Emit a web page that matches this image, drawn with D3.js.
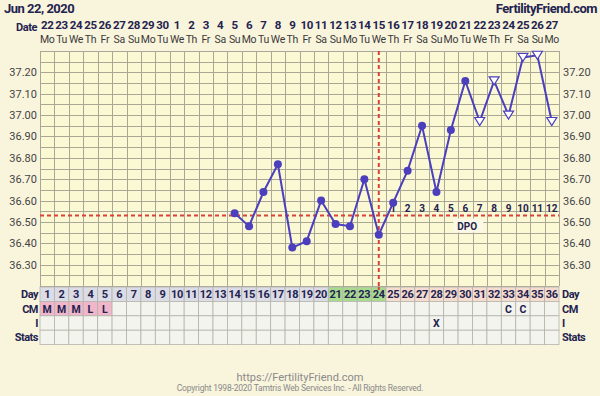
<!DOCTYPE html>
<html>
<head>
<meta charset="utf-8">
<style>
	body { margin: 0; background: #f9f4dc; }
	svg text { font-family: Roboto, sans-serif; }
</style>
</head>
<body>
<svg id="chart" width="600" height="396"></svg>
<script src="https://cdn.jsdelivr.net/npm/d3@7"></script>
<script>

	var days = d3.range(1, 37);
	var dates = [22,23,24,25,26,27,28,29,30,1,2,3,4,5,6,7,8,9,10,11,12,13,14,15,16,17,18,19,20,21,22,23,24,25,26,27];
	var weekdays = ["Mo","Tu","We","Th","Fr","Sa","Su"];
	var tempDays = [14,15,16,17,18,19,20,21,22,23,24,25,26,27,28,29,30,31,32,33,34,35,36];
	var temps = [36.54,36.48,36.64,36.77,36.38,36.41,36.60,36.49,36.48,36.70,36.44,36.59,36.74,36.95,36.64,36.93,37.16,36.97,37.16,37.00,37.27,37.28,36.97];
	var projected = [31,32,33,34,35,36]; // open triangles
	var yTicks = [36.30,36.40,36.50,36.60,36.70,36.80,36.90,37.00,37.10,37.20];
	var coverline = 36.53;
	var ovulationDay = 24;
	var dpoDays = [25,26,27,28,29,30,31,32,33,34,35,36];
	var cmValues = {1:"M",2:"M",3:"M",4:"L",5:"L",33:"C",34:"C"};
	var iValues = {28:"X"};
	var greenDays = [21,22,23,24];

	var navy = "#23234f";
	var lineColor = "#4b3fbd";
	var red = "#d9413a";

	var svg = d3.select("#chart");
	var x = d3.scaleBand().domain(days).range([40, 559]);
	var y = d3.scaleLinear().domain([36.20, 37.30]).range([286, 51]);
	var bw = x.bandwidth();
	function cx(d){ return x(d) + bw / 2; }

	// header
	svg.append("text").attr("x", 4).attr("y", 13).attr("font-size", 13).attr("font-weight", 700)
		.attr("fill", navy).attr("letter-spacing", -0.5).text("Jun 22, 2020");
	svg.append("text").attr("x", 597).attr("y", 13).attr("font-size", 13).attr("font-weight", 700)
		.attr("fill", navy).attr("text-anchor", "end").attr("letter-spacing", -0.5).text("FertilityFriend.com");
	svg.append("text").attr("x", 37).attr("y", 31).attr("font-size", 11).attr("font-weight", 700)
		.attr("fill", navy).attr("text-anchor", "end").attr("letter-spacing", -0.4).text("Date");
	svg.selectAll(".date").data(days).enter().append("text")
		.attr("x", cx).attr("y", 29).attr("text-anchor", "middle")
		.attr("font-size", 11.5).attr("font-weight", 700).attr("fill", navy).attr("letter-spacing", -0.3)
		.text(function(d){ return dates[d - 1]; });
	svg.selectAll(".wd").data(days).enter().append("text")
		.attr("x", cx).attr("y", 43).attr("text-anchor", "middle")
		.attr("font-size", 10.5).attr("fill", "#3a3a3a").attr("letter-spacing", -0.3)
		.text(function(d){ return weekdays[(d - 1) % 7]; });

	// plot area
	svg.append("rect").attr("x", 40).attr("y", y(37.30)).attr("width", 519).attr("height", y(36.20) - y(37.30))
		.attr("fill", "#fbf8d4");
	var grid = svg.append("g").attr("stroke", "#aaa796").attr("stroke-width", 1);
	d3.range(36.20, 37.301, 0.05).forEach(function(t){
		grid.append("line").attr("x1", 40).attr("x2", 559).attr("y1", Math.round(y(t)) + 0.5).attr("y2", Math.round(y(t)) + 0.5);
	});
	d3.range(0, 37).forEach(function(i){
		var xx = Math.round(40 + i * bw) + 0.5;
		grid.append("line").attr("x1", xx).attr("x2", xx).attr("y1", y(37.30)).attr("y2", y(36.20));
	});

	// y labels
	svg.selectAll(".yl").data(yTicks).enter().append("text")
		.attr("x", 37).attr("y", function(d){ return y(d) + 4; }).attr("text-anchor", "end")
		.attr("font-size", 11).attr("fill", "#444").text(function(d){ return d.toFixed(2); });
	svg.selectAll(".yr").data(yTicks).enter().append("text")
		.attr("x", 563).attr("y", function(d){ return y(d) + 4; })
		.attr("font-size", 11).attr("fill", "#444").text(function(d){ return d.toFixed(2); });

	// coverline and ovulation line
	svg.append("line").attr("x1", 40).attr("x2", 559).attr("y1", y(coverline)).attr("y2", y(coverline))
		.attr("stroke", red).attr("stroke-width", 2).attr("stroke-dasharray", "4,3");
	svg.append("line").attr("x1", cx(ovulationDay)).attr("x2", cx(ovulationDay)).attr("y1", y(37.30)).attr("y2", 291)
		.attr("stroke", red).attr("stroke-width", 2).attr("stroke-dasharray", "4,3");

	// DPO numbers
	svg.selectAll(".dpo").data(dpoDays).enter().append("text")
		.attr("x", cx).attr("y", y(coverline) - 4).attr("text-anchor", "middle")
		.attr("font-family", "'DejaVu Serif', serif").attr("font-size", 10).attr("font-weight", 700)
		.attr("fill", navy).text(function(d, i){ return i + 1; });
	var dpoX = cx(30) + 2;
	svg.append("rect").attr("x", dpoX - 14).attr("y", y(coverline) + 3).attr("width", 30).attr("height", 14).attr("fill", "#fbf8e6");
	svg.append("text").attr("x", dpoX).attr("y", y(coverline) + 14).attr("text-anchor", "middle")
		.attr("font-size", 10).attr("font-weight", 700).attr("fill", navy).text("DPO");

	// temperature line
	var pts = tempDays.map(function(d, i){ return [cx(d), y(temps[i]), d]; });
	svg.append("path").datum(pts).attr("fill", "none").attr("stroke", lineColor).attr("stroke-width", 2)
		.attr("d", d3.line());
	svg.selectAll(".pt").data(pts.filter(function(p){ return projected.indexOf(p[2]) < 0; })).enter().append("circle")
		.attr("cx", function(p){ return p[0]; }).attr("cy", function(p){ return p[1]; }).attr("r", 4)
		.attr("fill", lineColor);
	svg.selectAll(".tri").data(pts.filter(function(p){ return projected.indexOf(p[2]) >= 0; })).enter().append("path")
		.attr("d", function(p){ return "M" + (p[0] - 5) + "," + (p[1] - 4) + "L" + (p[0] + 5) + "," + (p[1] - 4) + "L" + p[0] + "," + (p[1] + 4) + "Z"; })
		.attr("fill", "#fff").attr("stroke", lineColor).attr("stroke-width", 1.2);

	// bottom table
	var rowTop = 287, rowH = 14.4;
	var rows = ["Day", "CM", "I", "Stats"];
	rows.forEach(function(r, ri){
		var ry = rowTop + ri * rowH;
		svg.selectAll(".cell" + ri).data(days).enter().append("rect")
			.attr("x", function(d){ return x(d); }).attr("y", ry).attr("width", bw).attr("height", rowH)
			.attr("stroke", "#b4b4ac").attr("stroke-width", 0.8)
			.attr("fill", function(d){
				if (ri === 0) {
					if (greenDays.indexOf(d) >= 0) return "#a9db8f";
					if (d > ovulationDay) return "#f6dccf";
					return "#dcdce6";
				}
				if (ri === 1 && d <= 5) return "#f1b6ca";
				return "#f4f4ee";
			});
		svg.append("text").attr("x", 38).attr("y", ry + rowH / 2 + 4).attr("text-anchor", "end")
			.attr("font-size", 11).attr("font-weight", 700).attr("fill", navy).attr("letter-spacing", -0.5)
			.attr("font-family", ri === 1 || ri === 2 ? "'DejaVu Serif', serif" : null).text(r);
		svg.append("text").attr("x", 562).attr("y", ry + rowH / 2 + 4)
			.attr("font-size", 11).attr("font-weight", 700).attr("fill", navy).attr("letter-spacing", -0.5)
			.attr("font-family", "'DejaVu Serif', serif").text(r);
	});
	svg.selectAll(".dn").data(days).enter().append("text")
		.attr("x", cx).attr("y", rowTop + rowH / 2 + 4).attr("text-anchor", "middle")
		.attr("font-size", 11).attr("font-weight", 700).attr("fill", navy).attr("letter-spacing", -0.3)
		.text(function(d){ return d; });
	svg.selectAll(".cm").data(Object.keys(cmValues)).enter().append("text")
		.attr("x", function(d){ return cx(+d); }).attr("y", rowTop + rowH * 1.5 + 4).attr("text-anchor", "middle")
		.attr("font-family", "'DejaVu Serif', serif").attr("font-size", 10.5).attr("font-weight", 700).attr("fill", navy)
		.text(function(d){ return cmValues[d]; });
	svg.selectAll(".iv").data(Object.keys(iValues)).enter().append("text")
		.attr("x", function(d){ return cx(+d); }).attr("y", rowTop + rowH * 2.5 + 4).attr("text-anchor", "middle")
		.attr("font-family", "'DejaVu Serif', serif").attr("font-size", 10.5).attr("font-weight", 700).attr("fill", navy)
		.text(function(d){ return iValues[d]; });
	// ovulation mark on day row
	svg.append("line").attr("x1", cx(ovulationDay)).attr("x2", cx(ovulationDay)).attr("y1", rowTop).attr("y2", rowTop + 3)
		.attr("stroke", red).attr("stroke-width", 2);

	// footer
	svg.append("text").attr("x", 300).attr("y", 381).attr("text-anchor", "middle")
		.attr("font-size", 11).attr("fill", "#8a8a8a").text("https://FertilityFriend.com");
	svg.append("text").attr("x", 300).attr("y", 391).attr("text-anchor", "middle")
		.attr("font-size", 8.5).attr("fill", "#8a8a8a").attr("letter-spacing", -0.2)
		.text("Copyright 1998-2020 Tamtris Web Services Inc. - All Rights Reserved.");
</script>
</body>
</html>
